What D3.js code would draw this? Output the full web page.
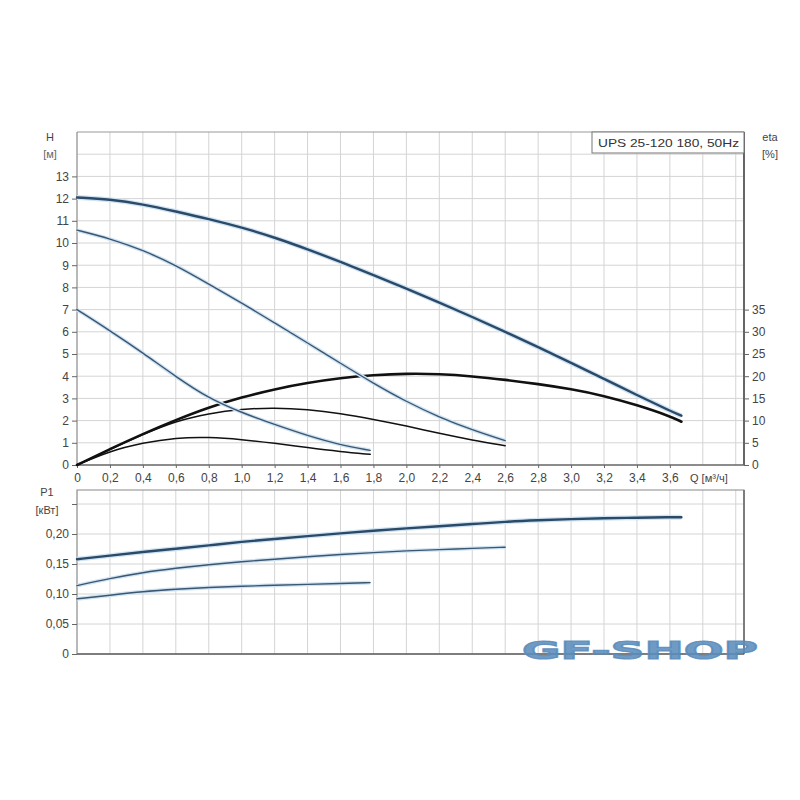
<!DOCTYPE html>
<html>
<head>
<meta charset="utf-8">
<script src="https://cdn.jsdelivr.net/npm/d3@7"></script>
<style>
  body { margin: 0; background: #fff; }
  svg { font-family: "Liberation Sans", Arial, sans-serif; }
  .grid line { stroke: #d4d4d4; stroke-width: 1; }
  .axis text { fill: #444; font-size: 12px; }
  .axis line { stroke: #666; }
  .axis path { stroke: #666; }
</style>
</head>
<body>
<svg class="chart" width="800" height="800"></svg>
<script>
// ---- data ----
var qTicks = [0, 0.2, 0.4, 0.6, 0.8, 1.0, 1.2, 1.4, 1.6, 1.8, 2.0, 2.2, 2.4, 2.6, 2.8, 3.0, 3.2, 3.4, 3.6];
var hTicks = [0, 1, 2, 3, 4, 5, 6, 7, 8, 9, 10, 11, 12, 13];
var etaTicks = [0, 5, 10, 15, 20, 25, 30, 35];
var pTicks = [0, 0.05, 0.10, 0.15, 0.20, 0.25];

var q3 = [0, 0.2, 0.4, 0.6, 0.8, 1.0, 1.2, 1.4, 1.6, 1.8, 2.0, 2.2, 2.4, 2.6, 2.8, 3.0, 3.2, 3.4, 3.6, 3.67];
var q2 = [0, 0.2, 0.4, 0.6, 0.8, 1.0, 1.2, 1.4, 1.6, 1.8, 2.0, 2.2, 2.4, 2.6];
var q1 = [0, 0.2, 0.4, 0.6, 0.8, 1.0, 1.2, 1.4, 1.6, 1.78];

// head H [m]
var h3 = [12.05, 11.97, 11.75, 11.42, 11.08, 10.7, 10.25, 9.72, 9.15, 8.56, 7.95, 7.32, 6.67, 6.0, 5.31, 4.6, 3.88, 3.15, 2.44, 2.22];
var h2 = [10.58, 10.2, 9.68, 9.0, 8.15, 7.3, 6.4, 5.5, 4.58, 3.68, 2.85, 2.15, 1.58, 1.1];
var h1 = [7.0, 6.05, 5.05, 3.98, 3.0, 2.36, 1.82, 1.32, 0.9, 0.66];

// efficiency eta [%]
var eta3 = [0, 3.6, 7.0, 10.15, 13.0, 15.25, 17.1, 18.5, 19.6, 20.25, 20.6, 20.5, 20.0, 19.2, 18.25, 17.1, 15.6, 13.5, 11.0, 9.75];
var eta2 = [0, 3.5, 6.9, 9.9, 11.6, 12.6, 12.9, 12.5, 11.6, 10.3, 8.8, 7.1, 5.6, 4.35];
var eta1 = [0, 3.15, 5.0, 6.15, 6.3, 5.75, 4.9, 3.9, 3.0, 2.4];

// power P1 [kW]
var p3 = [0.158, 0.164, 0.170, 0.1755, 0.181, 0.187, 0.1918, 0.1965, 0.201, 0.2055, 0.2095, 0.213, 0.2165, 0.2205, 0.223, 0.225, 0.2262, 0.2272, 0.228, 0.228];
var p2 = [0.114, 0.126, 0.136, 0.143, 0.149, 0.154, 0.158, 0.162, 0.166, 0.169, 0.172, 0.174, 0.176, 0.178];
var p1 = [0.092, 0.098, 0.104, 0.108, 0.111, 0.113, 0.1145, 0.116, 0.1175, 0.119];

var svg = d3.select(".chart");

var x = d3.scaleLinear().domain([0, 4.05]).range([77, 744]);
var yH = d3.scaleLinear().domain([0, 15]).range([465, 132]);
var yEta = d3.scaleLinear().domain([0, 75]).range([465, 132]);
var yP = d3.scaleLinear().domain([0, 0.25]).range([654, 504]);

var comma = function(d) { return d === 0 ? "0" : String(d).replace(".", ","); };
var qFmt = function(d) { return d === 0 ? "0" : d.toFixed(1).replace(".", ","); };
var pFmt = function(d) { return d === 0 ? "0" : d.toFixed(2).replace(".", ","); };

var gridQ = d3.range(0, 21).map(function(i) { return i * 0.2; });

//////////////// top chart ////////////////
var hq = svg.append("g");
var gTop = hq.append("g").attr("class", "grid");
gTop.selectAll(".v").data(gridQ).enter().append("line")
    .attr("x1", function(d) { return x(d); }).attr("x2", function(d) { return x(d); })
    .attr("y1", yH(15)).attr("y2", yH(0));
gTop.selectAll(".h").data(d3.range(1, 15)).enter().append("line")
    .attr("x1", x(0)).attr("x2", x.range()[1])
    .attr("y1", function(d) { return yH(d); }).attr("y2", function(d) { return yH(d); });

// frame
hq.append("line").attr("x1", x(0)).attr("x2", x.range()[1]).attr("y1", yH(15)).attr("y2", yH(15))
    .attr("stroke", "#999");
hq.append("line").attr("x1", x(0)).attr("x2", x(0)).attr("y1", yH(15)).attr("y2", yH(0))
    .attr("stroke", "#888");

hq.append("g").attr("class", "axis")
    .attr("transform", "translate(" + x(0) + ",0)")
    .call(d3.axisLeft(yH).tickValues(hTicks).tickSize(5).tickPadding(3).tickFormat(comma))
    .select(".domain").remove();

hq.append("g").attr("class", "axis")
    .attr("transform", "translate(0," + yH(0) + ")")
    .call(d3.axisBottom(x).tickValues(qTicks).tickSize(3).tickPadding(5).tickFormat(qFmt))
    .select(".domain").remove();
hq.append("line").attr("x1", x(0)).attr("x2", x.range()[1]).attr("y1", yH(0)).attr("y2", yH(0))
    .attr("stroke", "#666").attr("stroke-width", 1.5);

hq.append("g").attr("class", "axis")
    .attr("transform", "translate(" + x.range()[1] + ",0)")
    .call(d3.axisRight(yEta).tickValues(etaTicks).tickSize(5).tickPadding(3))
    .select(".domain").remove();
hq.append("line").attr("x1", x.range()[1]).attr("x2", x.range()[1]).attr("y1", yH(15)).attr("y2", yH(0))
    .attr("stroke", "#666").attr("stroke-width", 2);

// axis captions
hq.append("text").attr("x", 50).attr("y", 141).attr("text-anchor", "middle")
    .attr("font-size", 11).attr("fill", "#444").text("H");
hq.append("text").attr("x", 50).attr("y", 158).attr("text-anchor", "middle")
    .attr("font-size", 11).attr("fill", "#666").text("[м]");
hq.append("text").attr("x", 770).attr("y", 141).attr("text-anchor", "middle")
    .attr("font-size", 11).attr("fill", "#444").text("eta");
hq.append("text").attr("x", 770).attr("y", 158).attr("text-anchor", "middle")
    .attr("font-size", 11).attr("fill", "#444").text("[%]");
hq.append("text").attr("x", 690).attr("y", 482)
    .attr("font-size", 11).attr("fill", "#444").text("Q [м³/ч]");

// title box
hq.append("rect").attr("x", 592).attr("y", yH(15)).attr("width", x.range()[1] - 592).attr("height", 21)
    .attr("fill", "#fff").attr("stroke", "#777");
hq.append("text").attr("x", 598).attr("y", 147).attr("font-size", 11.5).attr("fill", "#333")
    .attr("textLength", 141).attr("lengthAdjust", "spacingAndGlyphs")
    .text("UPS 25-120 180, 50Hz");

function curve(g, qs, vs, yScale, color, width) {
    var pts = qs.map(function(q, i) { return [q, vs[i]]; });
    var line = d3.line()
        .x(function(d) { return x(d[0]); })
        .y(function(d) { return yScale(d[1]); })
        .curve(d3.curveBasis);
    if (color !== "#111") {
        g.append("path").datum(pts).attr("d", line).attr("fill", "none")
            .attr("stroke", "#cfe3f3").attr("stroke-width", width + 2.5);
    }
    g.append("path").datum(pts).attr("d", line).attr("fill", "none")
        .attr("stroke", color).attr("stroke-width", width).attr("stroke-linecap", "round");
}

var hColor = "#2b4a68";
curve(hq, q3, eta3, yEta, "#111", 2.6);
curve(hq, q2, eta2, yEta, "#111", 1.5);
curve(hq, q1, eta1, yEta, "#111", 1.5);
curve(hq, q3, h3, yH, hColor, 2.4);
curve(hq, q2, h2, yH, "#3a5670", 1.4);
curve(hq, q1, h1, yH, "#3a5670", 1.4);

//////////////// bottom chart ////////////////
var pq = svg.append("g");
var pTop = 490;
var gBot = pq.append("g").attr("class", "grid");
gBot.selectAll(".v").data(gridQ).enter().append("line")
    .attr("x1", function(d) { return x(d); }).attr("x2", function(d) { return x(d); })
    .attr("y1", pTop).attr("y2", yP(0));
gBot.selectAll(".h").data(pTicks.slice(1)).enter().append("line")
    .attr("x1", x(0)).attr("x2", x.range()[1])
    .attr("y1", function(d) { return yP(d); }).attr("y2", function(d) { return yP(d); });

pq.append("rect").attr("x", x(0)).attr("y", pTop).attr("width", x.range()[1] - x(0))
    .attr("height", yP(0) - pTop).attr("fill", "none").attr("stroke", "#888");
pq.append("line").attr("x1", x(0)).attr("x2", x.range()[1]).attr("y1", yP(0)).attr("y2", yP(0))
    .attr("stroke", "#666").attr("stroke-width", 1.5);
pq.append("line").attr("x1", x.range()[1]).attr("x2", x.range()[1]).attr("y1", pTop).attr("y2", yP(0))
    .attr("stroke", "#666").attr("stroke-width", 1.5);

pq.append("g").attr("class", "axis")
    .attr("transform", "translate(" + x(0) + ",0)")
    .call(d3.axisLeft(yP).tickValues(pTicks).tickSize(5).tickPadding(3)
        .tickFormat(function(d) { return d === 0.25 ? "" : pFmt(d); }))
    .select(".domain").remove();

pq.append("text").attr("x", 47).attr("y", 496).attr("text-anchor", "middle")
    .attr("font-size", 11).attr("fill", "#444").text("P1");
pq.append("text").attr("x", 47).attr("y", 514).attr("text-anchor", "middle")
    .attr("font-size", 11).attr("fill", "#444").text("[кВт]");

curve(pq, q3, p3, yP, hColor, 2.4);
curve(pq, q2, p2, yP, "#3a5670", 1.4);
curve(pq, q1, p1, yP, "#3a5670", 1.4);

// watermark
svg.append("text").attr("x", 522).attr("y", 659)
    .attr("font-family", "DejaVu Sans").attr("font-weight", "bold").attr("font-size", 25)
    .attr("fill", "#5a8cbc").attr("fill-opacity", 0.9)
    .attr("stroke", "#5a8cbc").attr("stroke-width", 1.2).attr("stroke-opacity", 0.9)
    .attr("textLength", 236).attr("lengthAdjust", "spacingAndGlyphs")
    .text("GF-SHOP");
</script>
</body>
</html>
